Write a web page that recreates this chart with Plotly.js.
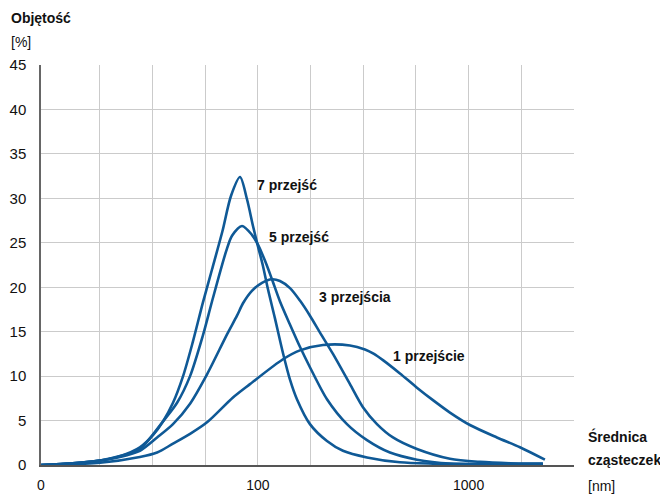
<!DOCTYPE html>
<html>
<head>
<meta charset="utf-8">
<script src="https://cdn.plot.ly/plotly-3.0.1.min.js"></script>
<style>html,body{margin:0;padding:0;background:#fff;}#chart{width:660px;height:495px;}</style>
</head>
<body>
<div id="chart"></div>
<script>
// Particle diameter [nm] and volume [%] for each number of passes
const x7 = [9.33, 13.2, 17.8, 22.1, 27.5, 31.8, 35.4, 39.5, 44.1, 49.0, 54.8, 60.5, 67.8, 74.5, 82.2, 88.7, 94.7, 100, 105.6, 111.5, 120.4, 131.4, 141.9, 153.1, 176.5, 212.6, 253.2, 329.2, 472, 677, 1000, 2252];
const y7 = [0, 0.2, 0.5, 1.0, 2.0, 3.4, 4.9, 7.0, 10.0, 13.8, 18.3, 22.0, 26.3, 30.3, 32.4, 29.9, 26.9, 24.6, 22.4, 19.8, 16.5, 12.6, 9.6, 7.4, 4.6, 2.7, 1.6, 0.85, 0.3, 0.15, 0.1, 0.1];

const x5 = [9.33, 13.2, 17.8, 22.1, 27.5, 35.4, 41.3, 47.6, 54.8, 60.5, 70.5, 75.3, 84.0, 93.6, 100, 107.9, 116.5, 127.2, 141.9, 158.2, 176.5, 212.6, 264.5, 329.2, 423.1, 568.4, 815.2, 1200, 2252];
const y5 = [0, 0.2, 0.5, 1.0, 1.8, 4.9, 7.0, 10.0, 14.6, 18.4, 24.0, 25.8, 26.9, 25.9, 24.8, 23.0, 20.9, 18.4, 15.8, 13.3, 11.0, 7.4, 4.6, 2.8, 1.4, 0.6, 0.15, 0.1, 0.1];

const x3 = [9.33, 13.2, 17.8, 22.1, 27.5, 33.2, 39.5, 47.6, 57.3, 71.3, 79.5, 84.9, 93.6, 104.5, 116.5, 127.2, 141.9, 158.2, 176.5, 197.0, 227.0, 273.3, 315.0, 367.1, 437.2, 568.4, 815.2, 1131, 1570, 2252];
const y3 = [0, 0.2, 0.5, 0.9, 1.6, 3.1, 4.6, 6.9, 10.2, 14.7, 16.8, 18.2, 19.6, 20.5, 20.9, 20.7, 19.9, 18.5, 16.8, 14.9, 12.5, 9.1, 6.5, 4.6, 3.1, 1.8, 0.7, 0.35, 0.2, 0.15];

const x1 = [9.33, 17.8, 27.5, 33.2, 39.5, 47.6, 57.3, 76.1, 91.6, 131.4, 158.2, 203.5, 273.3, 322.0, 355.3, 392.0, 472.0, 568.4, 677.0, 815.2, 1014, 1362, 1752, 2302];
const y1 = [0, 0.25, 0.9, 1.4, 2.4, 3.5, 4.8, 7.6, 9.1, 11.9, 12.9, 13.5, 13.45, 13.0, 12.5, 11.8, 10.3, 8.7, 7.3, 5.9, 4.5, 3.1, 2.0, 0.6];

const seriesNames = ['7 przejść', '5 przejść', '3 przejścia', '1 przejście'];

const xTickVals = [9.33, 17.78, 31.62, 56.23, 100, 177.8, 316.2, 562.3, 1000, 1778, 3162];
const xTickText = ['0', '', '', '', '100', '', '', '', '1000', '', ''];
const yTickVals = [0, 5, 10, 15, 20, 25, 30, 35, 40, 45];

const FONT = '"Liberation Sans", Arial, sans-serif';
const BLUE = '#0f5996';

const mk = (x, y, name) => ({
  x: x, y: y, name: name, type: 'scatter', mode: 'lines',
  line: {color: BLUE, width: 2.6, shape: 'spline', smoothing: 0.8},
  hoverinfo: 'x+y+name'
});

const data = [mk(x7, y7, seriesNames[0]), mk(x5, y5, seriesNames[1]), mk(x3, y3, seriesNames[2]), mk(x1, y1, seriesNames[3])];

const lab = (text, xl, yv) => ({
  text: '<b>' + text + '</b>', x: xl, y: yv, xref: 'x', yref: 'y',
  xanchor: 'left', yanchor: 'middle', showarrow: false,
  font: {family: FONT, size: 14, color: '#111'}
});

const paperText = (text, x, y, bold) => ({
  text: bold ? '<b>' + text + '</b>' : text, x: x, y: y, xref: 'paper', yref: 'paper',
  xanchor: 'left', yanchor: 'middle', showarrow: false,
  font: {family: FONT, size: 14, color: '#111'}
});

const layout = {
  width: 660, height: 495,
  margin: {l: 41, r: 86, t: 65, b: 30},
  paper_bgcolor: '#fff', plot_bgcolor: '#fff',
  showlegend: false,
  font: {family: FONT, size: 15, color: '#111'},
  xaxis: {
    type: 'log', range: [0.97, 3.5002],
    tickmode: 'array', tickvals: xTickVals, ticktext: xTickText,
    showgrid: true, gridcolor: '#cbcbcb', gridwidth: 1,
    showline: true, linecolor: '#555', linewidth: 1.5,
    ticks: '', ticklabelstandoff: 6,
    zeroline: false, tickfont: {family: FONT, size: 14, color: '#111'}
  },
  yaxis: {
    range: [0, 45.01], tickmode: 'array', tickvals: yTickVals,
    showgrid: true, gridcolor: '#cbcbcb', gridwidth: 1,
    showline: true, linecolor: '#666', linewidth: 1.5,
    ticks: '', ticklabelstandoff: 10, zeroline: false,
    tickfont: {family: FONT, size: 15, color: '#111'}
  },
  annotations: [
    lab(seriesNames[0], 1.986, 31.5),
    lab(seriesNames[1], 2.041, 25.7),
    lab(seriesNames[2], 2.28, 18.85),
    lab(seriesNames[3], 2.63, 12.3),
    paperText('Objętość', -0.06, 1.1175, true),
    paperText('[%]', -0.06, 1.0575, false),
    paperText('Średnica', 1.0225, 0.072, true),
    paperText('cząsteczek', 1.0225, 0.012, true),
    paperText('[nm]', 1.0225, -0.052, false)
  ]
};

Plotly.newPlot('chart', data, layout, {displayModeBar: false, responsive: false});
</script>
</body>
</html>
